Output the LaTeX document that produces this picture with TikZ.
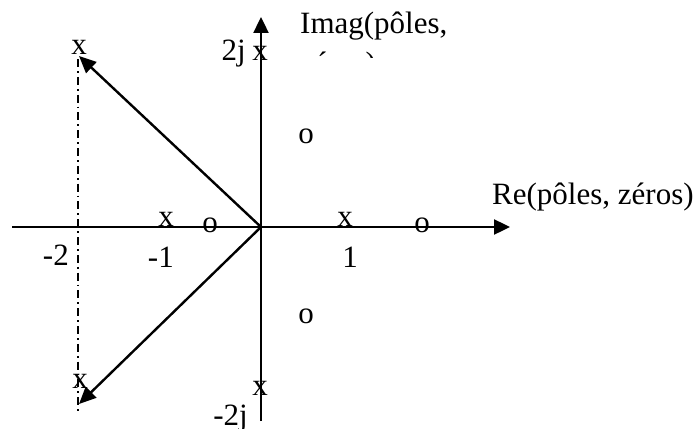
\documentclass[tikz,border=0pt]{standalone}
\usepackage{fontspec}
\setmainfont{Liberation Serif}
\usetikzlibrary{arrows.meta}
\begin{document}
\begin{tikzpicture}[x=1pt,y=-1pt,
  lbl/.style={inner sep=0pt,anchor=base,font=\fontsize{31}{38}\selectfont},
  lbll/.style={lbl,anchor=base west},
  axisline/.style={line width=2.4pt,-{Triangle[length=16pt,width=15pt]}},
  vecline/.style={line width=2.4pt,-{Triangle[length=17pt,width=15pt]}},
  dashdot/.style={line width=1.6pt,dash pattern=on 8pt off 4pt on 1.8pt off 4pt}]
\useasboundingbox (0,0) rectangle (700,428);
\coordinate (O) at (261,227);
\coordinate (rs) at (12,227);
\coordinate (re) at (510,227);
\coordinate (is) at (261,421);
\coordinate (ie) at (261,17);
\coordinate (ua) at (79,56);
\coordinate (la) at (79,404);
\coordinate (ds) at (78,59);
\coordinate (de) at (78,411);
% axes
\draw[axisline] (rs) -- (re);
\draw[axisline] (is) -- (ie);
% dash-dot line
\draw[dashdot] (ds) -- (de);
% vectors
\draw[vecline] (O) -- (ua);
\draw[vecline] (O) -- (la);
% poles
\node[lbl] (p1) at (79,55) {x};
\node[lbl] (p2) at (80,388) {x};
\node[lbl] (p3) at (166,226) {x};
\node[lbl] (p4) at (345,226) {x};
\node[lbl] (p5) at (260,60) {x};
\node[lbl] (p6) at (260,395) {x};
% zeros
\node[lbl] (z1) at (210,232) {o};
\node[lbl] (z2) at (422,232) {o};
\node[lbl] (z3) at (306,143) {o};
\node[lbl] (z4) at (306,323) {o};
% tick labels
\node[lbl,anchor=base east] (t2j) at (246,60) {2j};
\node[lbl,anchor=base east] (tm2j) at (248,425) {-2j};
\node[lbl,anchor=base east] (tm2) at (69,265) {-2};
\node[lbl,anchor=base east] (tm1) at (174,267) {-1};
\node[lbl] (t1) at (350,267) {1};
% axis titles
\node[lbll] (re-t) at (492,204) {Re(pôles, zéros)};
\node[lbll] (im-t) at (300,34) {Imag(pôles,};
\begin{scope}
\clip (280,0) rectangle (480,57.5);
\node[lbll] (im-t2) at (300,73) {zéros)};
\end{scope}
\end{tikzpicture}
\end{document}
